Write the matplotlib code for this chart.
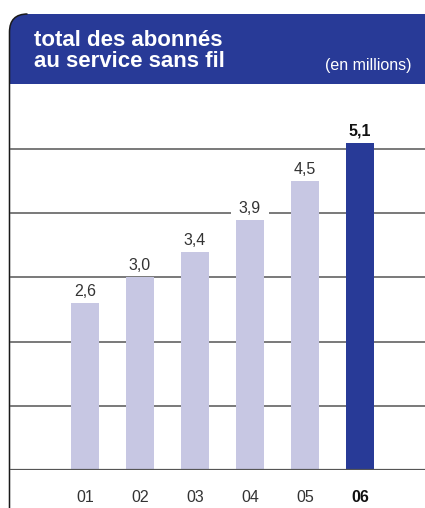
import matplotlib
matplotlib.use("Agg")
import matplotlib.pyplot as plt
from matplotlib.path import Path
from matplotlib.patches import PathPatch, Rectangle

years = ["01", "02", "03", "04", "05", "06"]
values = [2.6, 3.0, 3.4, 3.9, 4.5, 5.1]
value_labels = ["2,6", "3,0", "3,4", "3,9", "4,5", "5,1"]
gridlines = [1, 2, 3, 4, 5]
title_lines = ["total des abonnés", "au service sans fil"]
unit_label = "(en millions)"

W, H = 425, 508
DPI = 100
LIGHT = "#C7C7E3"
DARK = "#283A97"
FONT = "Liberation Sans"

fig = plt.figure(figsize=(W / DPI, H / DPI), dpi=DPI)

# decoration axes in pixel coordinates
deco = fig.add_axes([0, 0, 1, 1])
deco.set_xlim(0, W)
deco.set_ylim(H, 0)
deco.axis("off")

left, top, bottom_h, r = 9.5, 14, 84, 18
verts = [(left, bottom_h), (left, top + r), (left, top), (left + r, top),
         (W + 5, top), (W + 5, bottom_h), (left, bottom_h)]
codes = [Path.MOVETO, Path.LINETO, Path.CURVE3, Path.CURVE3,
         Path.LINETO, Path.LINETO, Path.CLOSEPOLY]
deco.add_patch(PathPatch(Path(verts, codes), facecolor=DARK, edgecolor="none", zorder=1))
bverts = [(left, H + 5), (left, top + r), (left, top), (left + r, top)]
bcodes = [Path.MOVETO, Path.LINETO, Path.CURVE3, Path.CURVE3]
deco.add_patch(PathPatch(Path(bverts, bcodes), facecolor="none", edgecolor="#1a1a1a",
                         lw=1.1, zorder=2))

deco.text(34, 46, title_lines[0], color="white", fontsize=16, fontweight="bold",
          family=FONT, va="baseline", ha="left")
deco.text(34, 67, title_lines[1], color="white", fontsize=16, fontweight="bold",
          family=FONT, va="baseline", ha="left")
deco.text(412, 70, unit_label, color="white", fontsize=11.5, family=FONT,
          va="baseline", ha="right")

# chart axes
x0_px, x1_px = 10, W
base_px, top_px = 470, 86
ax = fig.add_axes([x0_px / W, (H - base_px) / H, (x1_px - x0_px) / W, (base_px - top_px) / H])
ax.patch.set_alpha(0)
unit = 64.2
spacing = 55.0
center0 = 85
ax.set_ylim(0, (base_px - top_px) / unit)
ax.set_xlim(-(center0 - x0_px) / spacing, (x1_px - center0) / spacing)
for s in ax.spines.values():
    s.set_visible(False)
ax.set_xticks([])
ax.set_yticks([])

for g in gridlines:
    ax.axhline(g, color="#555555", lw=1.1, zorder=1)
ax.axhline(0, color="#555555", lw=1.6, zorder=4)

xs = list(range(len(years)))
colors = [LIGHT] * (len(years) - 1) + [DARK]
ax.bar(xs, values, width=28 / spacing, color=colors, zorder=3)

for i, (v, lab) in enumerate(zip(values, value_labels)):
    last = i == len(values) - 1
    # white knockout behind label
    ax.add_patch(Rectangle((i - 19 / spacing, v + 3 / unit), 38 / spacing, 19 / unit,
                           facecolor="white", edgecolor="none", zorder=2))
    ax.annotate(lab, (i, v), xytext=(0, 7), textcoords="offset pixels",
                ha="center", va="baseline", fontsize=11.5, family=FONT,
                fontweight="bold" if last else "normal",
                color="#111111" if last else "#333333", zorder=5)

for i, y in enumerate(years):
    last = i == len(years) - 1
    ax.annotate(y, (i, 0), xytext=(0, -27), textcoords="offset pixels",
                ha="center", va="center", fontsize=11.5, family=FONT,
                fontweight="bold" if last else "normal",
                color="#111111" if last else "#333333", annotation_clip=False)

fig.savefig("out.png", dpi=DPI)
